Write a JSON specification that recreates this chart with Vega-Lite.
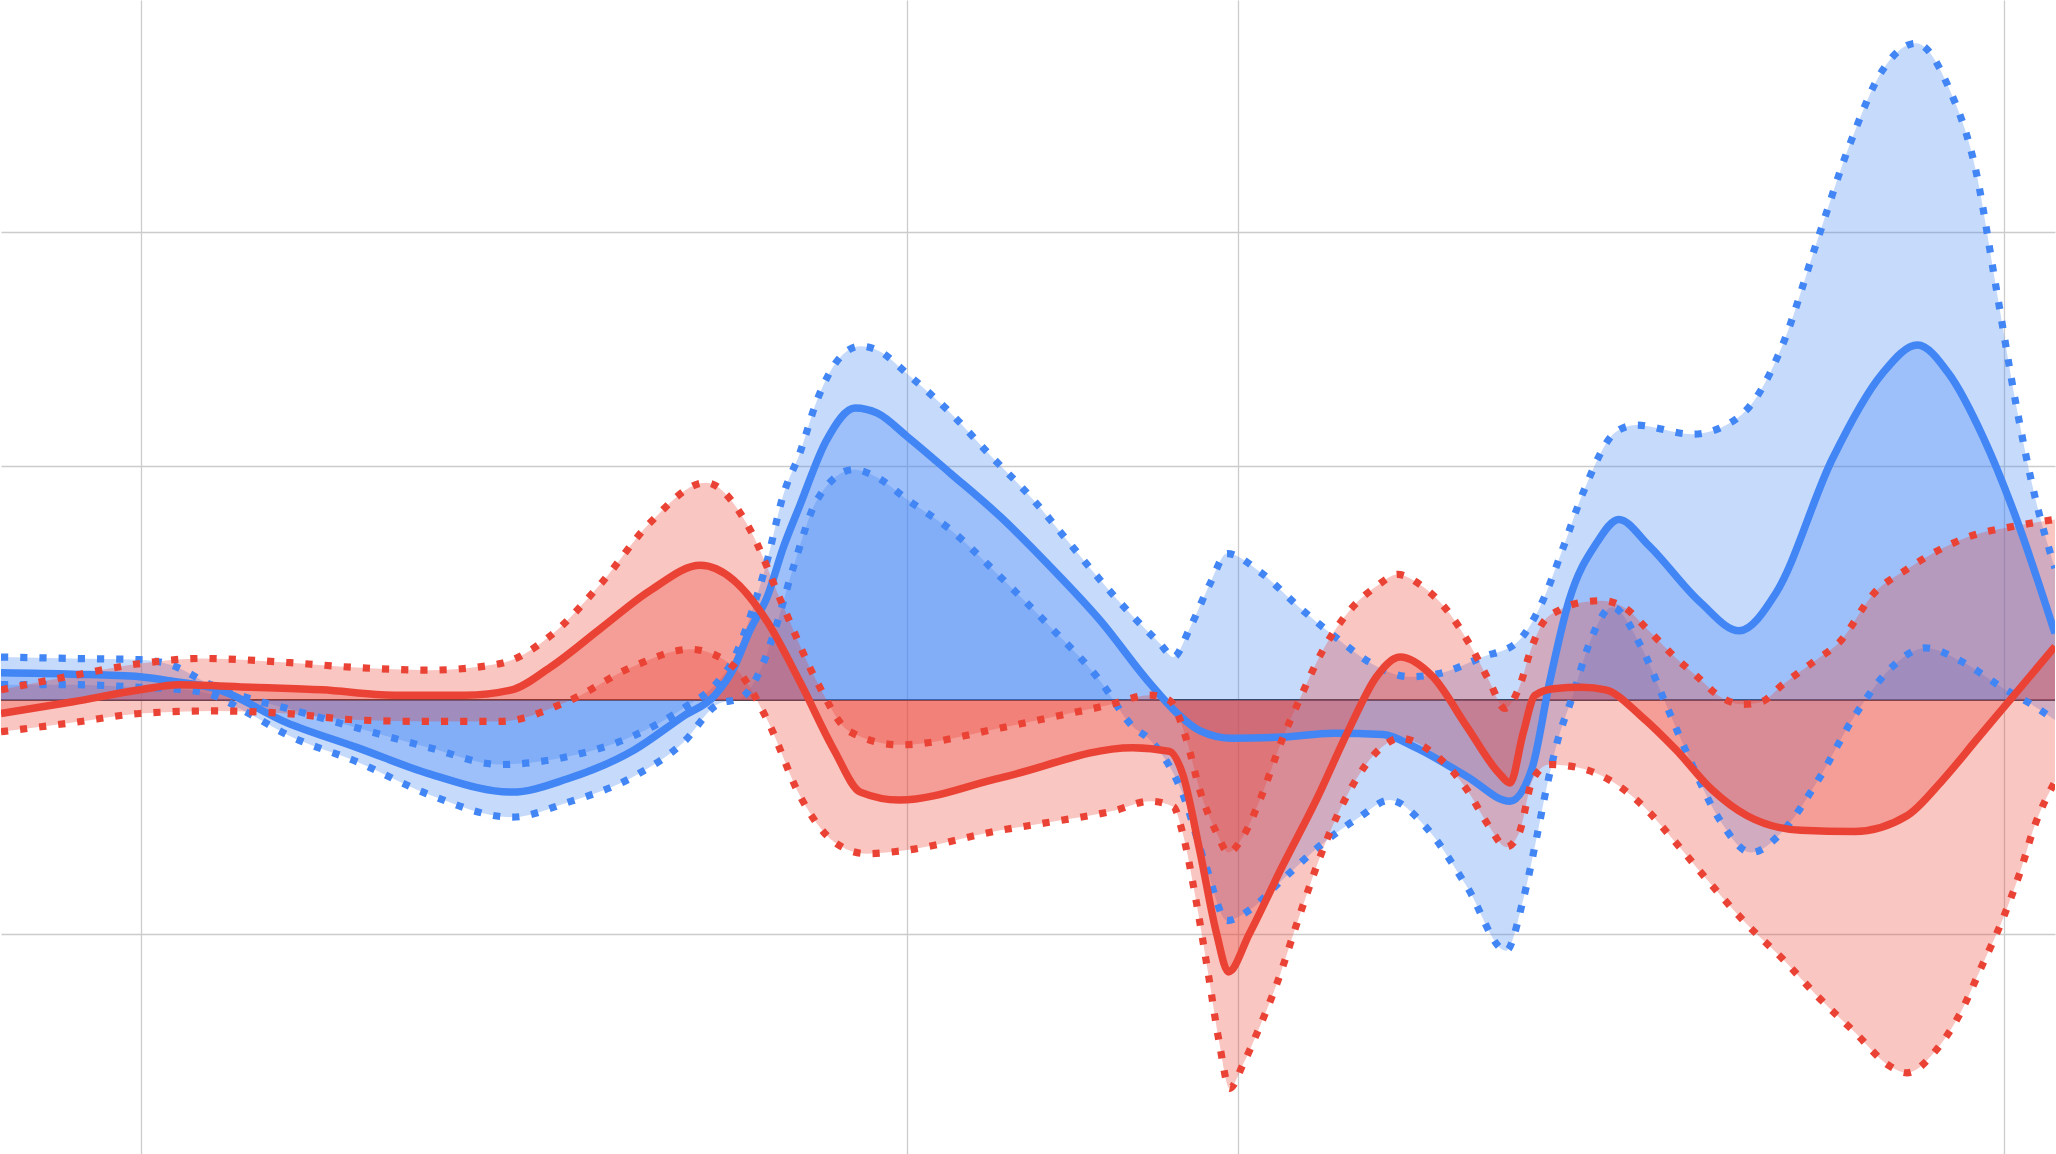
{
  "$schema": "https://vega.github.io/schema/vega-lite/v6.json",
  "autosize": {"type": "fit", "contains": "padding"},
  "width": 2056,
  "height": 1154,
  "padding": 0,
  "background": "white",
  "config": {"view": {"stroke": null}},
  "datasets": {
    "curves": [
      {"s":"BU","c":"b","x":0,"y":18.5},{"s":"BU","c":"b","x":5.5,"y":17.9},{"s":"BU","c":"b","x":10.6,"y":17.4},{"s":"BU","c":"b","x":13,"y":15.1},{"s":"BU","c":"b","x":16,"y":6.7},{"s":"BU","c":"b","x":19.1,"y":0.6},{"s":"BU","c":"b","x":21.8,"y":-3.4},{"s":"BU","c":"b","x":27.2,"y":-11.8},{"s":"BU","c":"b","x":32.7,"y":-20.2},{"s":"BU","c":"b","x":38.1,"y":-27.4},{"s":"BU","c":"b","x":43.2,"y":-24.1},{"s":"BU","c":"b","x":48.3,"y":-15.1},{"s":"BU","c":"b","x":52.1,"y":-3.4},{"s":"BU","c":"b","x":54.7,"y":7.8},{"s":"BU","c":"b","x":55.9,"y":17.4},{"s":"BU","c":"b","x":57.2,"y":35.9},{"s":"BU","c":"b","x":58.5,"y":59.9},{"s":"BU","c":"b","x":59.7,"y":87.4},{"s":"BU","c":"b","x":61,"y":105.9},{"s":"BU","c":"b","x":62.3,"y":128.3},{"s":"BU","c":"b","x":64.1,"y":146.8},{"s":"BU","c":"b","x":65.6,"y":151.3},{"s":"BU","c":"b","x":66.9,"y":149.6},{"s":"BU","c":"b","x":69.3,"y":138.9},{"s":"BU","c":"b","x":72.5,"y":122.7},{"s":"BU","c":"b","x":75.5,"y":104.8},{"s":"BU","c":"b","x":78.8,"y":85.7},{"s":"BU","c":"b","x":81.4,"y":68.3},{"s":"BU","c":"b","x":83.9,"y":51.5},{"s":"BU","c":"b","x":86.4,"y":35.9},{"s":"BU","c":"b","x":88.5,"y":24.1},{"s":"BU","c":"b","x":89.5,"y":18.5},{"s":"BU","c":"b","x":90.8,"y":31.4},{"s":"BU","c":"b","x":92.3,"y":49.9},{"s":"BU","c":"b","x":93.6,"y":62.7},{"s":"BU","c":"b","x":96.1,"y":54.9},{"s":"BU","c":"b","x":99.1,"y":39.8},{"s":"BU","c":"b","x":101.9,"y":26.9},{"s":"BU","c":"b","x":105,"y":14.6},{"s":"BU","c":"b","x":107.5,"y":10.1},{"s":"BU","c":"b","x":109.6,"y":11.2},{"s":"BU","c":"b","x":113.1,"y":18.5},{"s":"BU","c":"b","x":115.7,"y":24.6},{"s":"BU","c":"b","x":117.7,"y":42.6},{"s":"BU","c":"b","x":119.2,"y":64.4},{"s":"BU","c":"b","x":120.8,"y":89.1},{"s":"BU","c":"b","x":123.3,"y":114.8},{"s":"BU","c":"b","x":124.8,"y":117.6},{"s":"BU","c":"b","x":129.1,"y":113.7},{"s":"BU","c":"b","x":131.7,"y":117.6},{"s":"BU","c":"b","x":134,"y":129.4},{"s":"BU","c":"b","x":136,"y":151.8},{"s":"BU","c":"b","x":138.6,"y":195.5},{"s":"BU","c":"b","x":141.1,"y":237},{"s":"BU","c":"b","x":143.6,"y":268.9},{"s":"BU","c":"b","x":146.2,"y":280.7},{"s":"BU","c":"b","x":148.7,"y":261.6},{"s":"BU","c":"b","x":150.8,"y":225.2},{"s":"BU","c":"b","x":152.3,"y":176.5},{"s":"BU","c":"b","x":153.8,"y":127.2},{"s":"BU","c":"b","x":155.3,"y":86.3},{"s":"BU","c":"b","x":156.8,"y":56.5},

      {"s":"BM","c":"b","x":0,"y":11.8},{"s":"BM","c":"b","x":5.5,"y":11.2},{"s":"BM","c":"b","x":10.6,"y":10.1},{"s":"BM","c":"b","x":12.8,"y":8.4},{"s":"BM","c":"b","x":16.4,"y":5},{"s":"BM","c":"b","x":21.8,"y":-9.5},{"s":"BM","c":"b","x":27.2,"y":-20.2},{"s":"BM","c":"b","x":32.7,"y":-31.4},{"s":"BM","c":"b","x":39,"y":-39.2},{"s":"BM","c":"b","x":43.2,"y":-33.6},{"s":"BM","c":"b","x":48.3,"y":-21.3},{"s":"BM","c":"b","x":52.1,"y":-6.7},{"s":"BM","c":"b","x":54.5,"y":2.2},{"s":"BM","c":"b","x":55.9,"y":13.4},{"s":"BM","c":"b","x":57.2,"y":30.3},{"s":"BM","c":"b","x":58.5,"y":44.3},{"s":"BM","c":"b","x":59.7,"y":65},{"s":"BM","c":"b","x":61,"y":83.5},{"s":"BM","c":"b","x":63,"y":110.9},{"s":"BM","c":"b","x":65.2,"y":124.9},{"s":"BM","c":"b","x":66.9,"y":122.7},{"s":"BM","c":"b","x":69.2,"y":112.6},{"s":"BM","c":"b","x":72.5,"y":96.9},{"s":"BM","c":"b","x":76.3,"y":78.4},{"s":"BM","c":"b","x":80.1,"y":57.1},{"s":"BM","c":"b","x":83.9,"y":34.2},{"s":"BM","c":"b","x":87.7,"y":7.3},{"s":"BM","c":"b","x":89.8,"y":-5.6},{"s":"BM","c":"b","x":91.5,"y":-12.9},{"s":"BM","c":"b","x":94,"y":-16.2},{"s":"BM","c":"b","x":97.8,"y":-15.7},{"s":"BM","c":"b","x":101.7,"y":-14},{"s":"BM","c":"b","x":105.5,"y":-14.6},{"s":"BM","c":"b","x":108,"y":-20.2},{"s":"BM","c":"b","x":111.9,"y":-32.5},{"s":"BM","c":"b","x":115.2,"y":-43.1},{"s":"BM","c":"b","x":116.9,"y":-28.6},{"s":"BM","c":"b","x":118.2,"y":7.3},{"s":"BM","c":"b","x":119.7,"y":42.6},{"s":"BM","c":"b","x":121.8,"y":67.2},{"s":"BM","c":"b","x":123.5,"y":77.3},{"s":"BM","c":"b","x":125.8,"y":66.1},{"s":"BM","c":"b","x":129.7,"y":42},{"s":"BM","c":"b","x":132.7,"y":29.7},{"s":"BM","c":"b","x":135.5,"y":45.9},{"s":"BM","c":"b","x":139.8,"y":103.1},{"s":"BM","c":"b","x":143.6,"y":139.5},{"s":"BM","c":"b","x":146.3,"y":151.8},{"s":"BM","c":"b","x":148.7,"y":139.5},{"s":"BM","c":"b","x":151.3,"y":112.6},{"s":"BM","c":"b","x":153.8,"y":78.4},{"s":"BM","c":"b","x":156.8,"y":28.6},

      {"s":"BL","c":"b","x":0,"y":6.7},{"s":"BL","c":"b","x":5.5,"y":6.7},{"s":"BL","c":"b","x":10.6,"y":5.6},{"s":"BL","c":"b","x":12.8,"y":5},{"s":"BL","c":"b","x":15.5,"y":3.4},{"s":"BL","c":"b","x":19.1,"y":-6.2},{"s":"BL","c":"b","x":21.8,"y":-14.6},{"s":"BL","c":"b","x":27.2,"y":-26.3},{"s":"BL","c":"b","x":32.7,"y":-40.3},{"s":"BL","c":"b","x":39,"y":-49.9},{"s":"BL","c":"b","x":43.2,"y":-43.7},{"s":"BL","c":"b","x":48.3,"y":-32.5},{"s":"BL","c":"b","x":52.1,"y":-17.9},{"s":"BL","c":"b","x":54.7,"y":-1.7},{"s":"BL","c":"b","x":56.5,"y":1.1},{"s":"BL","c":"b","x":58,"y":13.4},{"s":"BL","c":"b","x":59,"y":28.6},{"s":"BL","c":"b","x":60.5,"y":57.1},{"s":"BL","c":"b","x":62.3,"y":85.7},{"s":"BL","c":"b","x":65.1,"y":98.6},{"s":"BL","c":"b","x":66.9,"y":95.2},{"s":"BL","c":"b","x":69.2,"y":85.7},{"s":"BL","c":"b","x":72.5,"y":72.8},{"s":"BL","c":"b","x":76.3,"y":52.7},{"s":"BL","c":"b","x":80.1,"y":31.4},{"s":"BL","c":"b","x":83.9,"y":8.4},{"s":"BL","c":"b","x":86.4,"y":-11.2},{"s":"BL","c":"b","x":87.7,"y":-16.8},{"s":"BL","c":"b","x":90.2,"y":-39.8},{"s":"BL","c":"b","x":92,"y":-71.1},{"s":"BL","c":"b","x":93.6,"y":-94.1},{"s":"BL","c":"b","x":95.3,"y":-89.6},{"s":"BL","c":"b","x":97.8,"y":-76.7},{"s":"BL","c":"b","x":100.9,"y":-61.1},{"s":"BL","c":"b","x":103.7,"y":-49.9},{"s":"BL","c":"b","x":106,"y":-42.6},{"s":"BL","c":"b","x":108.8,"y":-54.3},{"s":"BL","c":"b","x":111.9,"y":-79.5},{"s":"BL","c":"b","x":114.9,"y":-107},{"s":"BL","c":"b","x":116.2,"y":-85.2},{"s":"BL","c":"b","x":117.2,"y":-59.4},{"s":"BL","c":"b","x":118,"y":-37},{"s":"BL","c":"b","x":118.8,"y":-17.9},{"s":"BL","c":"b","x":120,"y":2.2},{"s":"BL","c":"b","x":121.2,"y":23.5},{"s":"BL","c":"b","x":123,"y":39.8},{"s":"BL","c":"b","x":125.2,"y":23},{"s":"BL","c":"b","x":127.1,"y":-1.7},{"s":"BL","c":"b","x":129,"y":-26.3},{"s":"BL","c":"b","x":131.2,"y":-51},{"s":"BL","c":"b","x":133.6,"y":-65},{"s":"BL","c":"b","x":136,"y":-56},{"s":"BL","c":"b","x":138.7,"y":-34.2},{"s":"BL","c":"b","x":141.5,"y":-6.7},{"s":"BL","c":"b","x":144.2,"y":13.4},{"s":"BL","c":"b","x":146.9,"y":22.4},{"s":"BL","c":"b","x":149.6,"y":16.8},{"s":"BL","c":"b","x":152.9,"y":5},{"s":"BL","c":"b","x":155,"y":-1.7},{"s":"BL","c":"b","x":156.8,"y":-8.4},

      {"s":"RU","c":"r","x":0,"y":4.5},{"s":"RU","c":"r","x":5.5,"y":10.6},{"s":"RU","c":"r","x":10.6,"y":15.7},{"s":"RU","c":"r","x":15.3,"y":17.9},{"s":"RU","c":"r","x":21.8,"y":16.2},{"s":"RU","c":"r","x":27.2,"y":14},{"s":"RU","c":"r","x":32.7,"y":12.9},{"s":"RU","c":"r","x":38.1,"y":15.7},{"s":"RU","c":"r","x":41.9,"y":27.4},{"s":"RU","c":"r","x":45.8,"y":49.9},{"s":"RU","c":"r","x":49.6,"y":76.2},{"s":"RU","c":"r","x":53.8,"y":93},{"s":"RU","c":"r","x":57.2,"y":72.8},{"s":"RU","c":"r","x":59.7,"y":40.3},{"s":"RU","c":"r","x":62.3,"y":7.8},{"s":"RU","c":"r","x":64.8,"y":-13.4},{"s":"RU","c":"r","x":68.6,"y":-19},{"s":"RU","c":"r","x":76.3,"y":-11.8},{"s":"RU","c":"r","x":80.1,"y":-7.3},{"s":"RU","c":"r","x":84.4,"y":-2.2},{"s":"RU","c":"r","x":87.7,"y":2.2},{"s":"RU","c":"r","x":89.2,"y":0},{"s":"RU","c":"r","x":90.5,"y":-16.8},{"s":"RU","c":"r","x":91.5,"y":-38.1},{"s":"RU","c":"r","x":92.8,"y":-56.6},{"s":"RU","c":"r","x":93.7,"y":-65},{"s":"RU","c":"r","x":94.8,"y":-58.3},{"s":"RU","c":"r","x":96.1,"y":-42.6},{"s":"RU","c":"r","x":97.8,"y":-16.8},{"s":"RU","c":"r","x":99.1,"y":0},{"s":"RU","c":"r","x":100.9,"y":21.3},{"s":"RU","c":"r","x":103,"y":38.7},{"s":"RU","c":"r","x":105,"y":48.7},{"s":"RU","c":"r","x":106.6,"y":53.8},{"s":"RU","c":"r","x":108.5,"y":48.7},{"s":"RU","c":"r","x":110.6,"y":37},{"s":"RU","c":"r","x":112.1,"y":24.1},{"s":"RU","c":"r","x":113.6,"y":8.4},{"s":"RU","c":"r","x":114.8,"y":-3.4},{"s":"RU","c":"r","x":115.9,"y":5.6},{"s":"RU","c":"r","x":116.8,"y":21.8},{"s":"RU","c":"r","x":117.7,"y":33.1},{"s":"RU","c":"r","x":119,"y":38.7},{"s":"RU","c":"r","x":120.3,"y":41.5},{"s":"RU","c":"r","x":122.2,"y":42.6},{"s":"RU","c":"r","x":123.9,"y":39.8},{"s":"RU","c":"r","x":125.8,"y":29.7},{"s":"RU","c":"r","x":127.9,"y":17.9},{"s":"RU","c":"r","x":129.5,"y":10.1},{"s":"RU","c":"r","x":131.2,"y":1.7},{"s":"RU","c":"r","x":133,"y":-1.7},{"s":"RU","c":"r","x":134.4,"y":-0.6},{"s":"RU","c":"r","x":136,"y":6.7},{"s":"RU","c":"r","x":138.6,"y":17.4},{"s":"RU","c":"r","x":140.3,"y":24.6},{"s":"RU","c":"r","x":143,"y":45.9},{"s":"RU","c":"r","x":145.5,"y":56},{"s":"RU","c":"r","x":148.2,"y":65},{"s":"RU","c":"r","x":150,"y":69.5},{"s":"RU","c":"r","x":153.8,"y":74.5},{"s":"RU","c":"r","x":156.8,"y":77.3},

      {"s":"RM","c":"r","x":0,"y":-5.6},{"s":"RM","c":"r","x":5.5,"y":-0.6},{"s":"RM","c":"r","x":10.6,"y":4.5},{"s":"RM","c":"r","x":13.6,"y":6.7},{"s":"RM","c":"r","x":19.1,"y":5.6},{"s":"RM","c":"r","x":24.5,"y":4.5},{"s":"RM","c":"r","x":30,"y":2.2},{"s":"RM","c":"r","x":35.4,"y":2.2},{"s":"RM","c":"r","x":39,"y":4.5},{"s":"RM","c":"r","x":41.9,"y":14},{"s":"RM","c":"r","x":45.8,"y":30.8},{"s":"RM","c":"r","x":49.6,"y":47.1},{"s":"RM","c":"r","x":53.4,"y":57.7},{"s":"RM","c":"r","x":55.9,"y":51.5},{"s":"RM","c":"r","x":58.5,"y":33.6},{"s":"RM","c":"r","x":61,"y":7.8},{"s":"RM","c":"r","x":63.6,"y":-21.3},{"s":"RM","c":"r","x":65.6,"y":-39.2},{"s":"RM","c":"r","x":68.6,"y":-42.6},{"s":"RM","c":"r","x":76.3,"y":-33.1},{"s":"RM","c":"r","x":86.4,"y":-20.2},{"s":"RM","c":"r","x":89.2,"y":-21.8},{"s":"RM","c":"r","x":90.2,"y":-31.4},{"s":"RM","c":"r","x":91.5,"y":-63.9},{"s":"RM","c":"r","x":92.8,"y":-99.7},{"s":"RM","c":"r","x":93.7,"y":-116},{"s":"RM","c":"r","x":95.3,"y":-99.7},{"s":"RM","c":"r","x":97.8,"y":-71.1},{"s":"RM","c":"r","x":100.4,"y":-42.6},{"s":"RM","c":"r","x":103,"y":-11.2},{"s":"RM","c":"r","x":105,"y":10.1},{"s":"RM","c":"r","x":106.8,"y":18.5},{"s":"RM","c":"r","x":109.3,"y":10.1},{"s":"RM","c":"r","x":111.9,"y":-11.2},{"s":"RM","c":"r","x":114.4,"y":-31.4},{"s":"RM","c":"r","x":115.2,"y":-35.3},{"s":"RM","c":"r","x":116.2,"y":-14},{"s":"RM","c":"r","x":117.1,"y":2.2},{"s":"RM","c":"r","x":118.5,"y":5},{"s":"RM","c":"r","x":120.7,"y":5.6},{"s":"RM","c":"r","x":122.5,"y":4.5},{"s":"RM","c":"r","x":125.2,"y":-6.7},{"s":"RM","c":"r","x":127.9,"y":-21.3},{"s":"RM","c":"r","x":130.6,"y":-38.1},{"s":"RM","c":"r","x":133.3,"y":-49.3},{"s":"RM","c":"r","x":137.4,"y":-55.5},{"s":"RM","c":"r","x":141.5,"y":-56},{"s":"RM","c":"r","x":145.5,"y":-49.3},{"s":"RM","c":"r","x":148.2,"y":-34.2},{"s":"RM","c":"r","x":150.9,"y":-16.2},{"s":"RM","c":"r","x":153.6,"y":1.7},{"s":"RM","c":"r","x":156.8,"y":23},

      {"s":"RL","c":"r","x":0,"y":-13.4},{"s":"RL","c":"r","x":5.5,"y":-9.5},{"s":"RL","c":"r","x":10.6,"y":-5.6},{"s":"RL","c":"r","x":16.3,"y":-4.5},{"s":"RL","c":"r","x":21.8,"y":-5.6},{"s":"RL","c":"r","x":27.2,"y":-8.4},{"s":"RL","c":"r","x":32.7,"y":-9},{"s":"RL","c":"r","x":38.1,"y":-9},{"s":"RL","c":"r","x":43.2,"y":-0.6},{"s":"RL","c":"r","x":48.3,"y":14.6},{"s":"RL","c":"r","x":52.6,"y":21.8},{"s":"RL","c":"r","x":55.9,"y":14.6},{"s":"RL","c":"r","x":58.5,"y":-8.4},{"s":"RL","c":"r","x":61,"y":-40.9},{"s":"RL","c":"r","x":63.6,"y":-60.5},{"s":"RL","c":"r","x":66.1,"y":-65.5},{"s":"RL","c":"r","x":68.6,"y":-64.4},{"s":"RL","c":"r","x":76.3,"y":-55.5},{"s":"RL","c":"r","x":80,"y":-52.1},{"s":"RL","c":"r","x":85,"y":-47.1},{"s":"RL","c":"r","x":87.7,"y":-43.1},{"s":"RL","c":"r","x":89.5,"y":-45.4},{"s":"RL","c":"r","x":90.2,"y":-56.6},{"s":"RL","c":"r","x":91.2,"y":-84.6},{"s":"RL","c":"r","x":92.2,"y":-118.2},{"s":"RL","c":"r","x":93,"y":-146.2},{"s":"RL","c":"r","x":93.8,"y":-165.8},{"s":"RL","c":"r","x":94.8,"y":-155.7},{"s":"RL","c":"r","x":96,"y":-140.6},{"s":"RL","c":"r","x":97.4,"y":-121},{"s":"RL","c":"r","x":99.1,"y":-92.4},{"s":"RL","c":"r","x":100.9,"y":-63.9},{"s":"RL","c":"r","x":103,"y":-38.1},{"s":"RL","c":"r","x":105.5,"y":-19.6},{"s":"RL","c":"r","x":106.8,"y":-16.2},{"s":"RL","c":"r","x":109.3,"y":-22.4},{"s":"RL","c":"r","x":111.9,"y":-38.1},{"s":"RL","c":"r","x":113.6,"y":-53.8},{"s":"RL","c":"r","x":114.9,"y":-62.7},{"s":"RL","c":"r","x":115.9,"y":-56.6},{"s":"RL","c":"r","x":116.9,"y":-34.2},{"s":"RL","c":"r","x":118.2,"y":-27.4},{"s":"RL","c":"r","x":120.3,"y":-28.6},{"s":"RL","c":"r","x":122.5,"y":-33.1},{"s":"RL","c":"r","x":125.2,"y":-44.3},{"s":"RL","c":"r","x":127.9,"y":-61.1},{"s":"RL","c":"r","x":130.6,"y":-79},{"s":"RL","c":"r","x":133.3,"y":-95.8},{"s":"RL","c":"r","x":136,"y":-110.4},{"s":"RL","c":"r","x":138.7,"y":-126.6},{"s":"RL","c":"r","x":141.5,"y":-141.7},{"s":"RL","c":"r","x":144.2,"y":-156.3},{"s":"RL","c":"r","x":145.5,"y":-159.1},{"s":"RL","c":"r","x":147.7,"y":-149.6},{"s":"RL","c":"r","x":149.6,"y":-133.3},{"s":"RL","c":"r","x":151.2,"y":-113.7},{"s":"RL","c":"r","x":152.8,"y":-93.6},{"s":"RL","c":"r","x":154.2,"y":-72.3},{"s":"RL","c":"r","x":155.2,"y":-54.3},{"s":"RL","c":"r","x":156.8,"y":-34.7}
    ]
  },
  "data": {"name": "curves"},
  "layer": [
    {
      "mark": {"type": "rule", "color": "#333333", "strokeWidth": 1.3},
      "encoding": {
        "y": {"datum": 0, "type": "quantitative", "scale": {"domain": [-193.8, 299.2], "nice": false, "zero": false},
          "axis": {"values": [-100, 100, 200], "labels": false, "ticks": false, "domain": false, "title": null, "grid": true, "gridColor": "#cccccc", "gridWidth": 1.3}}
      }
    },
    {
      "transform": [{"filter": "datum.c === 'b'"}],
      "mark": {"type": "area", "interpolate": "monotone", "color": "#4285F4", "fillOpacity": 0.3, "clip": true},
      "encoding": {
        "x": {"field": "x", "type": "quantitative", "scale": {"domain": [0, 156.8], "nice": false, "zero": false},
          "axis": {"values": [10.7, 69.2, 94.4, 152.9], "labels": false, "ticks": false, "domain": false, "title": null, "grid": true, "gridColor": "#cccccc", "gridWidth": 1.3}},
        "y": {"field": "y", "type": "quantitative", "stack": null},
        "y2": {"datum": 0},
        "detail": {"field": "s"}
      }
    },
    {
      "transform": [{"filter": "datum.c === 'r'"}],
      "mark": {"type": "area", "interpolate": "monotone", "color": "#EA4335", "fillOpacity": 0.3, "clip": true},
      "encoding": {
        "x": {"field": "x", "type": "quantitative"},
        "y": {"field": "y", "type": "quantitative", "stack": null},
        "y2": {"datum": 0},
        "detail": {"field": "s"}
      }
    },
    {
      "transform": [{"filter": "datum.s === 'BU' || datum.s === 'BL'"}],
      "mark": {"type": "line", "interpolate": "monotone", "color": "#4285F4", "strokeWidth": 7.2, "strokeDash": [7.2, 12], "strokeCap": "butt", "clip": true},
      "encoding": {
        "x": {"field": "x", "type": "quantitative"},
        "y": {"field": "y", "type": "quantitative"},
        "detail": {"field": "s"}
      }
    },
    {
      "transform": [{"filter": "datum.s === 'BM'"}],
      "mark": {"type": "line", "interpolate": "monotone", "color": "#4285F4", "strokeWidth": 7.5, "clip": true},
      "encoding": {
        "x": {"field": "x", "type": "quantitative"},
        "y": {"field": "y", "type": "quantitative"}
      }
    },
    {
      "transform": [{"filter": "datum.s === 'RU' || datum.s === 'RL'"}],
      "mark": {"type": "line", "interpolate": "monotone", "color": "#EA4335", "strokeWidth": 7.2, "strokeDash": [7.2, 12], "strokeCap": "butt", "clip": true},
      "encoding": {
        "x": {"field": "x", "type": "quantitative"},
        "y": {"field": "y", "type": "quantitative"},
        "detail": {"field": "s"}
      }
    },
    {
      "transform": [{"filter": "datum.s === 'RM'"}],
      "mark": {"type": "line", "interpolate": "monotone", "color": "#EA4335", "strokeWidth": 7.5, "clip": true},
      "encoding": {
        "x": {"field": "x", "type": "quantitative"},
        "y": {"field": "y", "type": "quantitative"}
      }
    }
  ]
}
